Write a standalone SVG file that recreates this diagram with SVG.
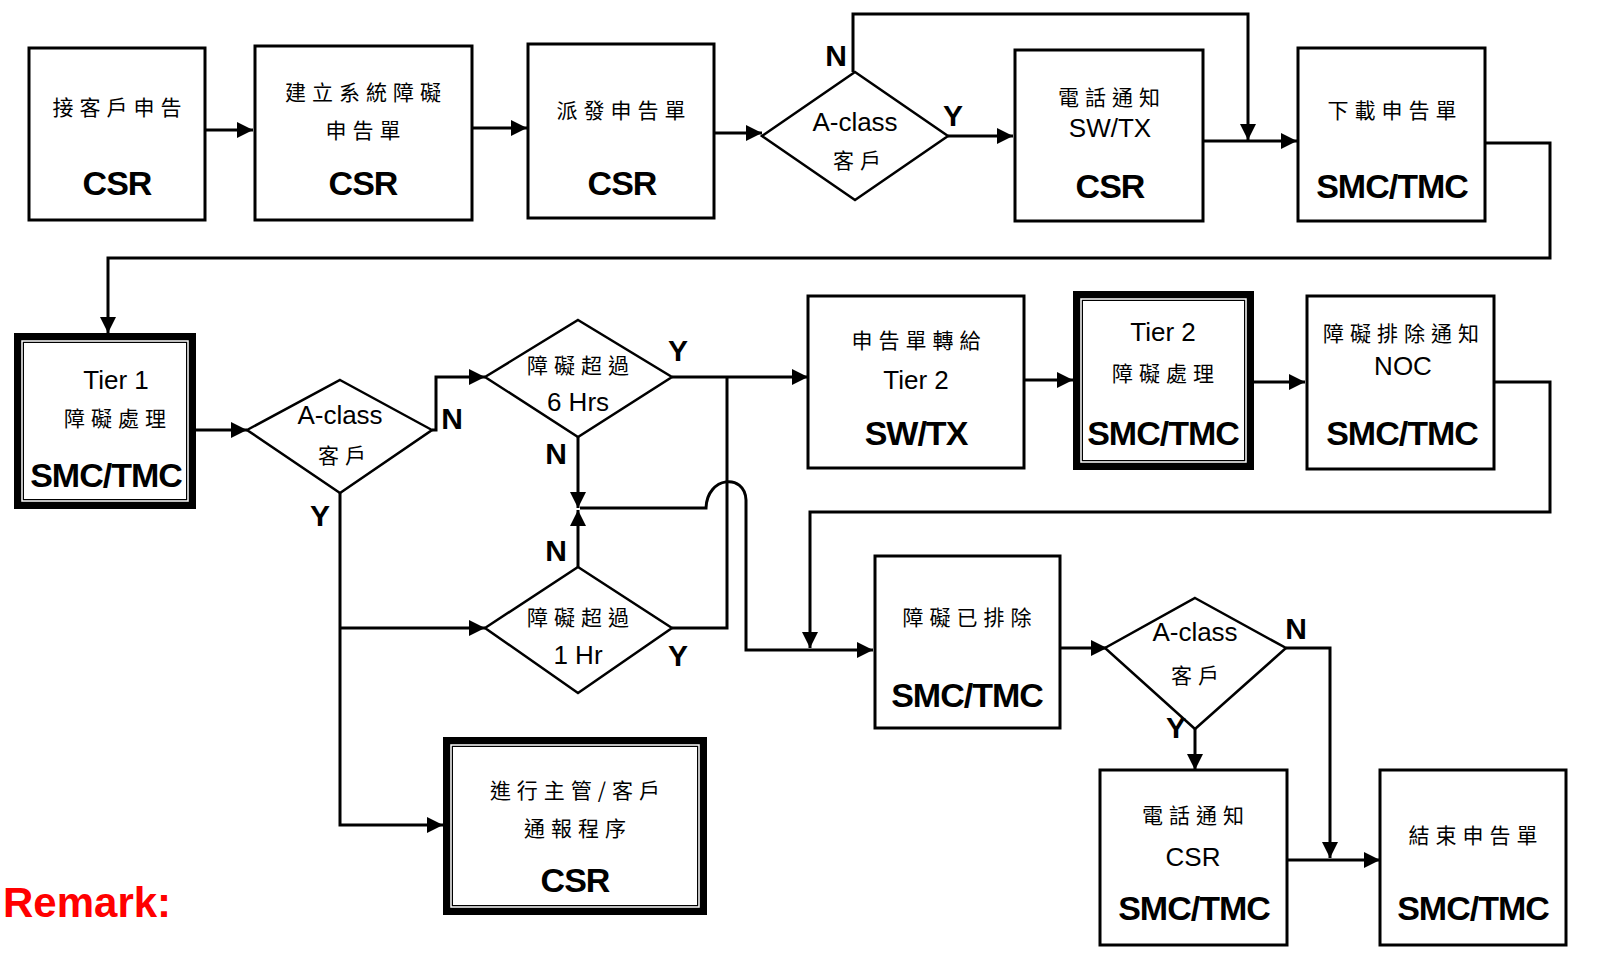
<svg xmlns="http://www.w3.org/2000/svg" width="1610" height="975" viewBox="0 0 1610 975">
<defs>
<marker id="arr" viewBox="0 0 16 16" refX="16" refY="8" markerWidth="16" markerHeight="16" markerUnits="userSpaceOnUse" orient="auto">
<path d="M0,0 L16,8 L0,16 z" fill="#000"/>
</marker>
<style>
.box{fill:#fff;stroke:#000;stroke-width:3}
.dia{fill:#fff;stroke:#000;stroke-width:2.5}
.thick{fill:#fff;stroke:#000;stroke-width:10}
.thin{fill:none;stroke:#fff;stroke-width:1.5}
.con{fill:none;stroke:#000;stroke-width:3;marker-end:url(#arr)}
.con0{fill:none;stroke:#000;stroke-width:3}
.cjk{font-family:"Noto Sans CJK TC","Noto Sans CJK SC",sans-serif;font-size:21px;letter-spacing:6px;text-anchor:middle;fill:#000}
.reg{font-family:"Liberation Sans",Arial,sans-serif;font-size:26px;text-anchor:middle;fill:#000}
.bold{font-family:"Liberation Sans",Arial,sans-serif;font-size:34px;font-weight:bold;letter-spacing:-1px;text-anchor:middle;fill:#000}
.lbl{font-family:"Liberation Sans",Arial,sans-serif;font-size:30px;font-weight:bold;text-anchor:middle;fill:#000}
.remark{font-family:"Liberation Sans",Arial,sans-serif;font-size:42px;font-weight:bold;fill:#ff0000}
</style>
</defs>
<rect width="1610" height="975" fill="#fff"/>

<g id="connectors">
<path class="con" d="M205,130 H253"/>
<path class="con" d="M472,128 H527"/>
<path class="con" d="M714,133 H762"/>
<path class="con" d="M948,136 H1013"/>
<path class="con" d="M853,72 V14 H1248 V140"/>
<path class="con" d="M1203,141 H1297"/>
<path class="con" d="M1485,143 H1550 V258 H108 V333"/>
<path class="con" d="M196,430 H247"/>
<path class="con" d="M432,430 H436 V377 H485"/>
<path class="con" d="M672,377 H808"/>
<path class="con0" d="M727,377 V628 H672"/>
<path class="con" d="M578,437 V508"/>
<path class="con" d="M578,567 V510"/>
<path class="con" d="M580,508 H706 C707,476 745,473 746,500 V650 H873"/>
<path class="con" d="M340,493 V825 H443"/>
<path class="con" d="M340,628 H485"/>
<path class="con" d="M1024,380 H1073"/>
<path class="con" d="M1254,382 H1305"/>
<path class="con" d="M1494,382 H1550 V512 H810 V648"/>
<path class="con" d="M1060,648 H1107"/>
<path class="con" d="M1286,648 H1330 V858"/>
<path class="con" d="M1195,729 V770"/>
<path class="con" d="M1287,860 H1380"/>
</g>

<g id="n1">
<rect class="box" x="29" y="48" width="176" height="172"/>
<text class="cjk" x="120" y="115">接客戶申告</text>
<text class="bold" x="117" y="195">CSR</text>
</g>
<g id="n2">
<rect class="box" x="255" y="46" width="217" height="174"/>
<text class="cjk" x="366" y="100">建立系統障礙</text>
<text class="cjk" x="366" y="138">申告單</text>
<text class="bold" x="363" y="195">CSR</text>
</g>
<g id="n3">
<rect class="box" x="528" y="44" width="186" height="174"/>
<text class="cjk" x="624" y="118">派發申告單</text>
<text class="bold" x="622" y="195">CSR</text>
</g>
<g id="d1">
<polygon class="dia" points="855,72 948,136 855,200 762,136"/>
<text class="reg" x="855" y="131">A-class</text>
<text class="cjk" x="860" y="168">客戶</text>
<text class="lbl" x="836" y="66">N</text>
<text class="lbl" x="953" y="126">Y</text>
</g>
<g id="n4">
<rect class="box" x="1015" y="50" width="188" height="171"/>
<text class="cjk" x="1112" y="105">電話通知</text>
<text class="reg" x="1110" y="137">SW/TX</text>
<text class="bold" x="1110" y="198">CSR</text>
</g>
<g id="n5">
<rect class="box" x="1298" y="48" width="187" height="173"/>
<text class="cjk" x="1395" y="118">下載申告單</text>
<text class="bold" x="1392" y="198">SMC/TMC</text>
</g>

<g id="n6">
<rect class="thick" x="19" y="338" width="172" height="166"/>
<rect class="thin" x="22" y="341" width="166" height="160"/>
<text class="reg" x="116" y="389">Tier 1</text>
<text class="cjk" x="118" y="426">障礙處理</text>
<text class="bold" x="106" y="487">SMC/TMC</text>
</g>
<g id="d2">
<polygon class="dia" points="340,380 432,430 340,493 247,430"/>
<text class="reg" x="340" y="424">A-class</text>
<text class="cjk" x="345" y="463">客戶</text>
<text class="lbl" x="452" y="429">N</text>
<text class="lbl" x="320" y="526">Y</text>
</g>
<g id="d3">
<polygon class="dia" points="578,320 672,377 578,437 485,377"/>
<text class="cjk" x="581" y="373">障礙超過</text>
<text class="reg" x="578" y="411">6 Hrs</text>
<text class="lbl" x="678" y="361">Y</text>
<text class="lbl" x="556" y="464">N</text>
</g>
<g id="d4">
<polygon class="dia" points="578,567 672,628 578,693 485,628"/>
<text class="cjk" x="581" y="625">障礙超過</text>
<text class="reg" x="578" y="664">1 Hr</text>
<text class="lbl" x="556" y="561">N</text>
<text class="lbl" x="678" y="666">Y</text>
</g>
<g id="n7">
<rect class="box" x="808" y="296" width="216" height="172"/>
<text class="cjk" x="919" y="348">申告單轉給</text>
<text class="reg" x="916" y="389">Tier 2</text>
<text class="bold" x="916" y="445">SW/TX</text>
</g>
<g id="n8">
<rect class="thick" x="1078" y="296" width="171" height="169"/>
<rect class="thin" x="1081" y="299" width="165" height="163"/>
<text class="reg" x="1163" y="341">Tier 2</text>
<text class="cjk" x="1166" y="381">障礙處理</text>
<text class="bold" x="1163" y="445">SMC/TMC</text>
</g>
<g id="n9">
<rect class="box" x="1307" y="296" width="187" height="173"/>
<text class="cjk" x="1404" y="341">障礙排除通知</text>
<text class="reg" x="1403" y="375">NOC</text>
<text class="bold" x="1402" y="445">SMC/TMC</text>
</g>

<g id="n10">
<rect class="box" x="875" y="556" width="185" height="172"/>
<text class="cjk" x="970" y="625">障礙已排除</text>
<text class="bold" x="967" y="707">SMC/TMC</text>
</g>
<g id="d5">
<polygon class="dia" points="1195,598 1286,648 1195,729 1105,648"/>
<text class="reg" x="1195" y="641">A-class</text>
<text class="cjk" x="1198" y="683">客戶</text>
<text class="lbl" x="1296" y="639">N</text>
<text class="lbl" x="1176" y="738">Y</text>
</g>
<g id="n11">
<rect class="box" x="1100" y="770" width="187" height="175"/>
<text class="cjk" x="1196" y="823">電話通知</text>
<text class="reg" x="1193" y="866">CSR</text>
<text class="bold" x="1194" y="920">SMC/TMC</text>
</g>
<g id="n12">
<rect class="box" x="1380" y="770" width="186" height="175"/>
<text class="cjk" x="1476" y="843">結束申告單</text>
<text class="bold" x="1473" y="920">SMC/TMC</text>
</g>
<g id="n13">
<rect class="thick" x="448" y="742" width="254" height="168"/>
<rect class="thin" x="451" y="745" width="248" height="162"/>
<text class="cjk" x="578" y="798">進行主管/客戶</text>
<text class="cjk" x="578" y="836">通報程序</text>
<text class="bold" x="575" y="892">CSR</text>
</g>

<text class="remark" x="3" y="917">Remark:</text>
</svg>
